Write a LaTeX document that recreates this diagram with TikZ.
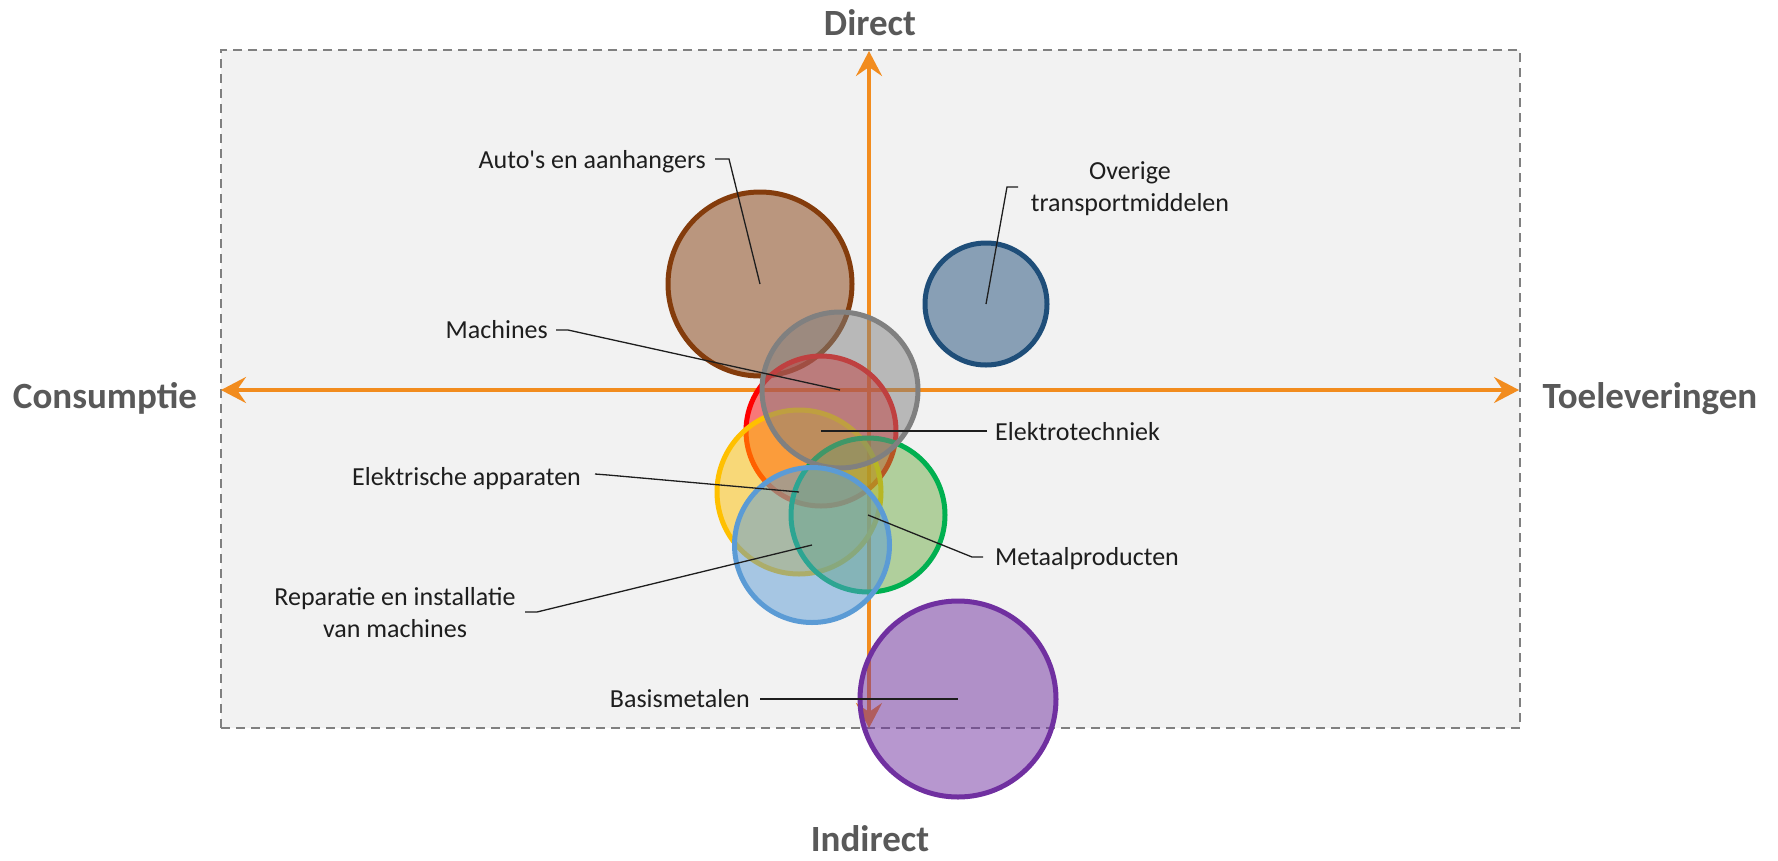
\documentclass[tikz,border=0pt]{standalone}
\usepackage{fontspec}
\setmainfont{Carlito}[Ligatures=TeXOff]
\usetikzlibrary{arrows.meta}
\definecolor{bgc}{RGB}{242,242,242}
\definecolor{axc}{RGB}{242,140,30}
\definecolor{titc}{RGB}{89,89,89}
\definecolor{labc}{RGB}{30,30,30}
\definecolor{cbrown}{HTML}{843C0C}
\definecolor{cnavy}{HTML}{1F4E79}
\definecolor{cgray}{HTML}{808080}
\definecolor{cred}{HTML}{FF0000}
\definecolor{cyel}{HTML}{FFC000}
\definecolor{cgreen}{HTML}{00B050}
\definecolor{cgreenf}{HTML}{70AD47}
\definecolor{cblue}{HTML}{5B9BD5}
\definecolor{cpurp}{HTML}{7030A0}
\tikzset{
  axisline/.style={draw=axc, line width=3.5pt, -{Stealth[length=25pt,width=26pt,inset=9pt]}},
  bubble/.style={circle, line width=5pt, fill opacity=0.5, inner sep=0pt, outer sep=0pt},
  leader/.style={draw=labc, line width=1.3pt},
  lab/.style={text=labc, font=\fontsize{26}{32}\selectfont, inner sep=0pt},
  axtitle/.style={text=titc, font=\fontsize{37}{40}\selectfont\bfseries, inner sep=0pt},
}
\begin{document}
\begin{tikzpicture}[x=1pt,y=-1pt]
\useasboundingbox (0,0) rectangle (1778,860);
% frame
\node[draw=cgray, dashed, dash pattern=on 9pt off 6pt, line width=2pt, fill=bgc,
      minimum width=1299pt, minimum height=678pt, inner sep=0pt] (frame) at (870.5,389) {};
% axes
\coordinate (c0) at (869,390);
\coordinate (axL) at (221,390);
\coordinate (axR) at (1519,390);
\coordinate (axT) at (869,51);
\coordinate (axB) at (869,728);
\draw[axisline] (c0) -- (axL);
\draw[axisline] (c0) -- (axR);
\draw[axisline] (c0) -- (axT);
\draw[axisline] (c0) -- (axB);
% titles
\node[axtitle, anchor=base] (tDirect) at (870,35) {Direct};
\node[axtitle, anchor=base] (tIndirect) at (870,851) {Indirect};
\node[axtitle, anchor=base] (tCons) at (105,408) {Consumptie};
\node[axtitle, anchor=base] (tToel) at (1650,408) {Toeleveringen};
% bubbles
\node[bubble, draw=cbrown, fill=cbrown, minimum size=184pt] (auto) at (760,284) {};
\node[bubble, draw=cnavy, fill=cnavy, minimum size=122pt] (over) at (986,304) {};
\node[bubble, draw=cred, fill=cred, minimum size=150pt] (elek) at (821,431) {};
\node[bubble, draw=cyel, fill=cyel, minimum size=164pt] (appa) at (799,492) {};
\node[bubble, draw=cgreen, fill=cgreenf, minimum size=154pt] (meta) at (868,515) {};
\node[bubble, draw=cgray, fill=cgray, minimum size=156pt] (mach) at (840,390) {};
\node[bubble, draw=cblue, fill=cblue, minimum size=155pt] (repa) at (812,545) {};
\node[bubble, draw=cpurp, fill=cpurp, minimum size=196pt] (basi) at (958,699) {};
% labels
\node[lab, anchor=base east] (lAuto) at (706,168) {Auto's en aanhangers};
\node[lab, anchor=base east] (lMach) at (548,338) {Machines};
\node[lab, align=center, anchor=base] (lOver) at (1130,211) {Overige\\transportmiddelen};
\node[lab, anchor=base west] (lElek) at (995,440) {Elektrotechniek};
\node[lab, anchor=base west] (lAppa) at (352,485) {Elektrische apparaten};
\node[lab, anchor=base west] (lMeta) at (995,565) {Metaalproducten};
\node[lab, align=center, anchor=base] (lRepa) at (395,637) {Reparatie en installatie\\van machines};
\node[lab, anchor=base east] (lBasi) at (750,707) {Basismetalen};
% leaders
\coordinate (kAuto1) at (715,159);
\coordinate (kAuto2) at (729,159);
\draw[leader] (kAuto1) -- (kAuto2) -- (auto.center);
\coordinate (kMach1) at (556,330);
\coordinate (kMach2) at (568,330);
\draw[leader] (kMach1) -- (kMach2) -- (mach.center);
\coordinate (kOver1) at (1018,187);
\coordinate (kOver2) at (1007,187);
\draw[leader] (kOver1) -- (kOver2) -- (over.center);
\coordinate (kElek) at (987,431);
\draw[leader] (kElek) -- (elek.center);
\coordinate (kAppa1) at (595,474);
\coordinate (kAppa2) at (608,475);
\draw[leader] (kAppa1) -- (kAppa2) -- (appa.center);
\coordinate (kMeta1) at (983,557);
\coordinate (kMeta2) at (972,557);
\draw[leader] (kMeta1) -- (kMeta2) -- (meta.center);
\coordinate (kRepa1) at (525,612);
\coordinate (kRepa2) at (537,612);
\draw[leader] (kRepa1) -- (kRepa2) -- (repa.center);
\coordinate (kBasi) at (760,699);
\draw[leader] (kBasi) -- (basi.center);
\end{tikzpicture}
\end{document}
